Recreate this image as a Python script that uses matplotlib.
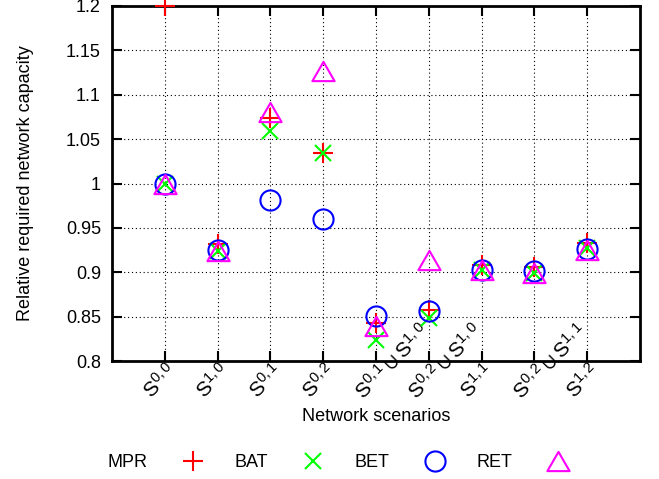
import matplotlib
matplotlib.use("Agg")
import matplotlib.pyplot as plt
import matplotlib.transforms as mtransforms
from matplotlib.path import Path

plt.rcParams['font.family'] = ['Liberation Sans', 'DejaVu Sans']
plt.rcParams['mathtext.fontset'] = 'custom'
plt.rcParams['mathtext.rm'] = 'Liberation Sans'
plt.rcParams['mathtext.it'] = 'Liberation Sans:italic'
plt.rcParams['mathtext.bf'] = 'Liberation Sans:bold'
plt.rcParams['mathtext.sf'] = 'Liberation Sans'
plt.rcParams['mathtext.fallback'] = 'stixsans'

# ---- data ----
scenarios = [r'$\mathregular{S^{0,0}}$', r'$\mathregular{S^{1,0}}$',
             r'$\mathregular{S^{0,1}}$', r'$\mathregular{S^{0,2}}$',
             r'$\mathregular{S^{0,1}\cup S^{1,0}}$',
             r'$\mathregular{S^{0,2}\cup S^{1,0}}$',
             r'$\mathregular{S^{1,1}}$',
             r'$\mathregular{S^{0,2}\cup S^{1,1}}$',
             r'$\mathregular{S^{1,2}}$']
mpr = [1.200, 0.932, 1.074, 1.034, 0.843, 0.857, 0.908, 0.906, 0.933]
bat = [1.000, 0.924, 1.059, 1.034, 0.824, 0.848, 0.902, 0.899, 0.927]
bet = [1.000, 0.925, 0.981, 0.960, 0.851, 0.856, 0.903, 0.901, 0.926]
ret = [1.000, 0.924, 1.081, 1.127, 0.840, 0.914, 0.903, 0.899, 0.925]
yticks = [0.8, 0.85, 0.9, 0.95, 1.0, 1.05, 1.1, 1.15, 1.2]
ytick_labels = ['0.8', '0.85', '0.9', '0.95', '1', '1.05', '1.1', '1.15', '1.2']

DPI = 100
fig = plt.figure(figsize=(6.59, 4.79), dpi=DPI)
ax = fig.add_axes([0.170, 0.2463, 0.801, 0.7412])

x = list(range(len(scenarios)))
tri = Path([(0, 0.866), (-1, -0.866), (1, -0.866), (0, 0.866)],
           [Path.MOVETO, Path.LINETO, Path.LINETO, Path.CLOSEPOLY])

ax.plot(x, mpr, linestyle='none', marker='+', ms=14.5, mew=1.5, color='#ff0000',
        label='MPR', clip_on=False, zorder=3)
ax.plot(x, bat, linestyle='none', marker='x', ms=11.5, mew=1.5, color='#00ff00',
        label='BAT', clip_on=False, zorder=4)
ax.plot(x, bet, linestyle='none', marker='o', ms=14.5, mew=1.5, mfc='none',
        color='#0000ff', label='BET', clip_on=False, zorder=5)
ax.plot(x, ret, linestyle='none', marker=tri, ms=16, mew=1.5, mfc='none',
        color='#ff00ff', label='RET', clip_on=False, zorder=6)

ax.set_xlim(-1, len(scenarios))
ax.set_ylim(0.8, 1.2)
ax.set_yticks(yticks)
ax.set_yticklabels(ytick_labels)
ax.set_xticks(x)
ax.set_xticklabels(scenarios)

ax.grid(True, color='black', linestyle=(0, (1, 2.5)), linewidth=0.8)
ax.set_axisbelow(True)
for s in ax.spines.values():
    s.set_linewidth(2.0)

ax.tick_params(axis='both', direction='in', length=7, width=1.5,
               top=True, right=True, labelsize=13, colors='black')
ax.tick_params(axis='y', pad=8)
ax.tick_params(axis='x', pad=28, labelsize=15)

offset = mtransforms.ScaledTranslation(-13 / DPI, 0, fig.dpi_scale_trans)
for lab in ax.get_xticklabels():
    lab.set_rotation(45)
    lab.set_rotation_mode('anchor')
    lab.set_ha('left')
    lab.set_va('baseline')
    lab.set_transform(lab.get_transform() + offset)

ax.set_xlabel('Network scenarios', fontsize=13)
ax.xaxis.set_label_coords(0.5, -0.133)
ax.set_ylabel('Relative required network capacity', fontsize=13)
ax.yaxis.set_label_coords(-0.148, 0.5)

fig.legend(loc='center', bbox_to_anchor=(0.5185, 0.0335), ncol=4, frameon=False,
           markerfirst=False, fontsize=13, handlelength=2.0, handletextpad=1.5,
           columnspacing=1.31)

fig.savefig('out.png', dpi=DPI)
